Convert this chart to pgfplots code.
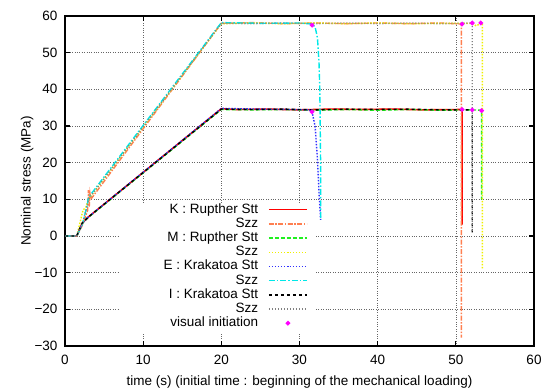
\documentclass[border=0pt]{standalone}
\usepackage{pgfplots}
\pgfplotsset{compat=1.18}
\usepackage{fontspec}
\setmainfont{Liberation Sans}
\definecolor{kred}{HTML}{FF0000}
\definecolor{korange}{HTML}{FF7F50}
\definecolor{mgreen}{HTML}{20F020}
\definecolor{myellow}{HTML}{F0F000}
\definecolor{eblue}{HTML}{3030FF}
\definecolor{ecyan}{HTML}{00E8E8}
\definecolor{igrey}{HTML}{808080}
\definecolor{vmag}{HTML}{FF00FF}
\begin{document}
\begin{tikzpicture}
\begin{axis}[
  scale only axis, width=469bp, height=330bp,
  xmin=0, xmax=60, ymin=-30, ymax=60,
  xtick={0,10,20,30,40,50,60},
  xticklabels={0,10,20,30,40,50,60},
  ytick={-30,-20,-10,0,10,20,30,40,50,60},
  yticklabels={−30,−20,−10,0,10,20,30,40,50,60},
  font=\fontsize{13.5bp}{16bp}\selectfont,
  tick label style={font=\fontsize{13.5bp}{16bp}\selectfont},
  xticklabel style={yshift=-6bp},
  yticklabel style={xshift=-4bp},
  grid=major,
  major grid style={dotted, black!60, line width=0.5pt},
  axis line style={line width=1.6pt},
  tick style={black, line width=1.2pt},
  tick align=inside, major tick length=5bp,
  xlabel={time (s) (initial time : beginning of the mechanical loading)},
  ylabel={Nominal stress (MPa)},
  xlabel style={at={(axis description cs:0.5,-0.109)}, anchor=center},
  ylabel style={at={(axis description cs:-0.081,0.5)}, anchor=center},
  legend cell align=right,
  legend plot pos=right,
  legend style={draw=none, fill=none, at={(axis description cs:0.518,0.433)}, anchor=north east,
    inner sep=0pt, row sep=1.6bp, font=\fontsize{13.5bp}{16bp}\selectfont,
    nodes={inner sep=0pt, text height=9.7bp, text depth=2.9bp}, column sep=10bp},
  legend image code/.code={\draw[mark repeat=2,mark phase=2,#1] plot coordinates {(0bp,0bp)(19bp,0bp)(38bp,0bp)};},
  every axis plot/.append style={line width=1.4bp},
]
\coordinate (SW) at (rel axis cs:0,0);
\coordinate (NE) at (rel axis cs:1,1);
\fill[white] (axis cs:7.03,-26.1) rectangle (axis cs:32.1,9.1);

% K : Rupther Stt
\addplot[color=kred, draw=kred, solid, line width=1.6bp] coordinates {
 (0,0) (1.5,0) (2.2,3.5) (3,5.2) (20,34.7) (22,34.5) (26,34.6) (30,34.4) (34,34.6)
 (38,34.5) (42,34.6) (46,34.4) (50.8,34.5) (50.8,3.1)};
\addlegendentry{K : Rupther Stt}
% K Szz
\addplot[color=korange, dash pattern=on 5bp off 1.5bp on 1.5bp off 1.5bp] coordinates {
 (0,0) (1.5,0) (2.2,2.8) (2.9,7) (3.0,12.5) (3.1,8) (3.2,11.5) (3.3,10) (20,58)
 (24,58.2) (28,57.9) (32,58.1) (36,57.9) (40,58.1) (44,57.9) (48,58.1) (50.7,57.8) (50.7,-27.7)};
\addlegendentry{Szz}
% M : Rupther Stt
\addplot[color=mgreen, dash pattern=on 4bp off 2bp] coordinates {
 (0,0) (1.5,0) (2.2,3.4) (3,5.1) (20,34.5) (24,34.4) (28,34.5) (32,34.3) (36,34.5)
 (40,34.3) (44,34.5) (48,34.3) (52,34.4) (53.3,34.3) (53.3,9.9)};
\addlegendentry{M : Rupther Stt}
% M Szz
\addplot[color=myellow, dash pattern=on 1.5bp off 1.5bp] coordinates {
 (0,0) (1.5,0) (2.3,7) (2.7,8) (3,10) (20,57.9) (24,58.1) (28,57.9) (32,58.1)
 (36,57.9) (40,58.1) (44,57.9) (48,58.0) (52.1,58.0) (52.6,57.3) (53.2,58.0) (53.4,58.0) (53.4,-9.2)};
\addlegendentry{Szz}
% E : Krakatoa Stt
\addplot[color=eblue, dash pattern=on 1.5bp off 1.5bp] coordinates {
 (0,0) (1.5,0) (2.2,3.5) (3,5.2) (20,34.8) (25,34.6) (29,34.5) (31.3,34.4) (31.6,33.9)
 (32.0,29.9) (32.3,20.8) (32.5,11.7) (32.7,4.4)};
\addlegendentry{E : Krakatoa Stt}
% E Szz
\addplot[color=ecyan, dash pattern=on 6bp off 2bp on 1.5bp off 2bp] coordinates {
 (0,0) (1.5,0) (2.2,3) (2.8,8) (3.0,10.5) (20,58.2) (25,58) (30,58.1) (31.6,57.8)
 (32.0,57) (32.3,54) (32.5,47) (32.6,40) (32.65,30) (32.7,20) (32.72,4.4)};
\addlegendentry{Szz}
% I : Krakatoa Stt
\addplot[color=black, dash pattern=on 3bp off 3bp] coordinates {
 (0,0) (1.5,0) (2.2,3.5) (3,5.2) (20,34.6) (24,34.5) (28,34.6) (32,34.4) (36,34.6)
 (40,34.5) (44,34.6) (48,34.4) (52.1,34.4) (52.1,1.0)};
\addlegendentry{I : Krakatoa Stt}
% I Szz
\addplot[color=igrey, dash pattern=on 1bp off 2bp] coordinates {
 (0,0) (1.5,0) (2.2,3) (2.8,8) (3,10) (20,58) (24,57.9) (28,58.1) (32,57.9) (36,58.1)
 (40,57.9) (44,58.1) (48,57.9) (52.1,58.1) (52.1,0.9)};
\addlegendentry{Szz}
% visual initiation
\addplot[only marks, mark=*, mark size=1.6pt, color=vmag, mark options={draw=vmag, fill=vmag}] coordinates {
 (31.6,57.5) (31.6,33.9) (50.8,57.8) (50.8,34.5) (52.1,58.1) (52.1,34.4) (53.2,58.1) (53.3,34.2)};
\addlegendentry{visual initiation}
\end{axis}
\pgfresetboundingbox
\path ([shift={(-65bp,-45bp)}]SW) rectangle ([shift={(11bp,16bp)}]NE);
\end{tikzpicture}
\end{document}
